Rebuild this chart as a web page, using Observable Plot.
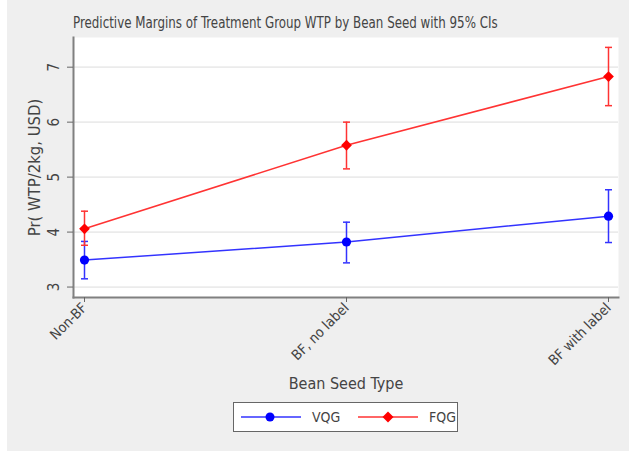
<!DOCTYPE html>
<html>
<head>
<meta charset="utf-8">
<script src="https://cdn.jsdelivr.net/npm/d3@7"></script>
<script src="https://cdn.jsdelivr.net/npm/@observablehq/plot@0.6"></script>
<style>
  html, body { margin: 0; padding: 0; background: #ffffff; }
  #wrap { position: relative; width: 629px; height: 451px; overflow: hidden;
          background: linear-gradient(to right, #ffffff 0px, #ffffff 7px, #efefef 7px);
          font-family: "DejaVu Sans Condensed", "DejaVu Sans", sans-serif; color: #444; }
  #title { position: absolute; left: 73px; top: 13px; font-size: 16.5px; line-height: 19px; white-space: nowrap; color: #444;
           transform: scaleX(0.8); transform-origin: 0 0; }
  #chart { position: absolute; left: 0; top: 30px; }
  #legend { position: absolute; left: 233px; top: 402px; width: 223px; height: 28px; border: 1px solid #666; background: #fff; }
  .item { position: absolute; top: 0; height: 28px; display: flex; align-items: center; font-size: 14px; color: #444; }
  .item svg { margin-right: 10px; }
</style>
</head>
<body>
<div id="wrap">
  <div id="title">Predictive Margins of Treatment Group WTP by Bean Seed with 95% CIs</div>
  <div id="chart"></div>
  <div id="legend">
    <div class="item" style="left:6px"><svg width="62" height="12"><line x1="1" y1="6" x2="61" y2="6" stroke="#3333ff" stroke-width="1.5"/><circle cx="30" cy="6" r="4.5" fill="#0000ff"/></svg>VQG</div>
    <div class="item" style="left:123px"><svg width="62" height="12"><line x1="1" y1="6" x2="61" y2="6" stroke="#ff3333" stroke-width="1.5"/><path d="M31,0.5L36.5,6L31,11.5L25.5,6Z" fill="#ff0000"/></svg>FQG</div>
  </div>
</div>
<script>
const categories = ["Non-BF", "BF, no label", "BF with label"];
const vqgMargin = [3.49, 3.82, 4.29];
const vqgLow    = [3.15, 3.44, 3.81];
const vqgHigh   = [3.83, 4.18, 4.77];
const fqgMargin = [4.06, 5.58, 6.83];
const fqgLow    = [3.76, 5.15, 6.30];
const fqgHigh   = [4.38, 6.00, 7.36];
const yTicks = [3, 4, 5, 6, 7];
const yDomain = [2.81, 7.54];
const yLabel = "Pr( WTP/2kg, USD)";
const xLabel = "Bean Seed Type";
const colors = {VQG: "#0000ff", FQG: "#ff0000"};
const lineColors = {VQG: "#3333ff", FQG: "#ff3333"};
const FONT = '"DejaVu Sans Condensed", "DejaVu Sans", sans-serif';

const vqg = categories.map((c, i) => ({group: "VQG", cat: c, m: vqgMargin[i], lo: vqgLow[i], hi: vqgHigh[i]}));
const fqg = categories.map((c, i) => ({group: "FQG", cat: c, m: fqgMargin[i], lo: fqgLow[i], hi: fqgHigh[i]}));

const cap = { draw(ctx, size) { ctx.moveTo(-3.5, 0); ctx.lineTo(3.5, 0); } };

function series(data, g, marker) {
  return [
    Plot.line(data, {x: "cat", y: "m", stroke: lineColors[g], strokeWidth: 1.5}),
    Plot.ruleX(data, {x: "cat", y1: "lo", y2: "hi", stroke: lineColors[g], strokeWidth: 1.5}),
    Plot.dot(data, {x: "cat", y: "lo", symbol: cap, stroke: lineColors[g], strokeWidth: 1.5, fill: "none"}),
    Plot.dot(data, {x: "cat", y: "hi", symbol: cap, stroke: lineColors[g], strokeWidth: 1.5, fill: "none"}),
    marker === "circle"
      ? Plot.dot(data, {x: "cat", y: "m", symbol: "circle", r: 4.6, fill: colors[g], stroke: "none"})
      : Plot.dot(data, {x: "cat", y: "m", symbol: "square", rotate: 45, r: 4.3, fill: colors[g], stroke: "none"})
  ];
}

const chart = Plot.plot({
  width: 629,
  height: 365,
  marginLeft: 73,
  marginRight: 11,
  marginTop: 7,
  marginBottom: 98,
  style: {background: "transparent", fontFamily: FONT, color: "#444"},
  x: {type: "point", domain: categories, padding: 0.038},
  y: {domain: yDomain},
  marks: [
    Plot.frame({fill: "#ffffff", stroke: "none"}),
    Plot.gridY(yTicks, {stroke: "#ebebeb", strokeOpacity: 1, strokeWidth: 1.8}),
    Plot.frame({anchor: "left", stroke: "#808080", strokeWidth: 2}),
    Plot.frame({anchor: "bottom", stroke: "#808080", strokeWidth: 2}),
    Plot.axisY(yTicks, {tickRotate: -90, tickSize: 6, tickPadding: 9, stroke: "#666", fontSize: 15, fill: "#444",
      tickFormat: d3.format("d"), label: null}),
    Plot.axisX({tickRotate: -45, tickSize: 5, tickPadding: 3, stroke: "#666", fontSize: 14, fill: "#444", label: null}),
    Plot.text([yLabel], {text: d => d, frameAnchor: "left", rotate: -90, dx: -39, fontSize: 16.5, fill: "#444",
      textAnchor: "middle", lineAnchor: "middle"}),
    Plot.text([xLabel], {text: d => d, frameAnchor: "bottom", dy: 86, fontSize: 16, fill: "#444",
      textAnchor: "middle", lineAnchor: "middle"}),
    ...series(vqg, "VQG", "circle"),
    ...series(fqg, "FQG", "diamond")
  ]
});
document.getElementById("chart").appendChild(chart);
</script>
</body>
</html>
